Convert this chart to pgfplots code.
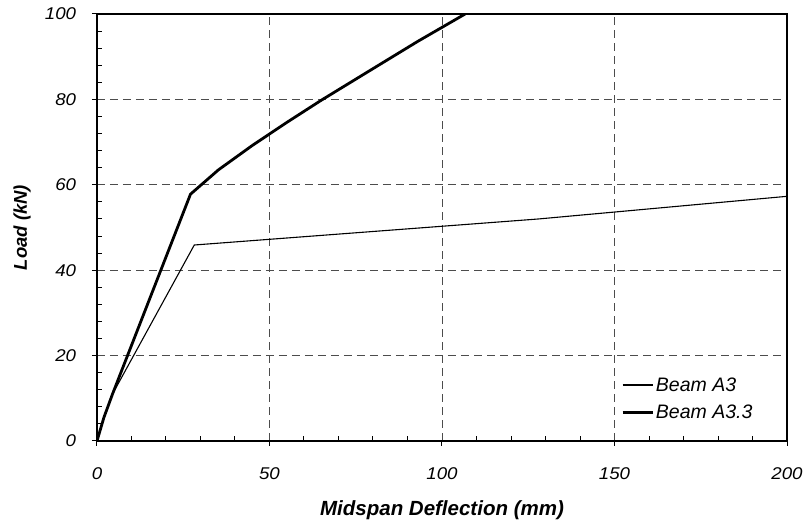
\documentclass[border=0pt]{standalone}
\usepackage{pgfplots}
\pgfplotsset{compat=1.18}
\usepackage{fontspec}
\setmainfont{Liberation Sans}

\begin{document}
\begin{tikzpicture}
% page frame, 1pt per reference pixel
\useasboundingbox (-97pt,-81pt) rectangle (710pt,441pt);
\begin{axis}[
  at={(0pt,0pt)}, anchor=south west,
  scale only axis, width=690pt, height=427pt,
  xmin=0, xmax=200, ymin=0, ymax=100,
  xtick={0,50,100,150,200}, ytick={0,20,40,60,80,100},
  minor x tick num=4, minor y tick num=4,
  xtick pos=bottom, ytick pos=left,
  tick align=outside,
  major tick length=5pt, minor tick length=5pt,
  every minor x tick/.append style={yshift=5pt},
  every minor y tick/.append style={xshift=5pt},
  tick style={black, line width=1pt},
  axis line style={black, line width=1.3pt},
  grid=major,
  major grid style={black!70, line width=0.8pt, dash pattern=on 8pt off 5pt},
  /pgf/number format/assume math mode=true,
  ticklabel style={font=\fontsize{17}{20}\selectfont\itshape},
  xticklabel style={yshift=-18pt, xscale=1.1},
  yticklabel style={xshift=-12pt, xscale=1.1},
  xlabel={Midspan Deflection (mm)},
  ylabel={Load (kN)},
  every axis x label/.style={at={(axis description cs:0.5,-0.163)}, anchor=center},
  every axis y label/.style={at={(axis description cs:-0.1087,0.5)}, rotate=90, anchor=center},
  xlabel style={font=\fontsize{20.5}{24}\selectfont\bfseries\itshape},
  ylabel style={font=\fontsize{18.5}{22}\selectfont\bfseries\itshape},
  legend cell align=left,
  legend style={draw=none, fill=none, at={(rel axis cs:0.755,0.04)}, anchor=south west,
    font=\fontsize{19.5}{22}\selectfont\itshape, row sep=8pt},
  legend image code/.code={\draw[#1] (0pt,0pt) -- (30pt,0pt);},
]
\addplot[black, line width=1.1pt] coordinates {
  (0,0) (2,5.5) (4.5,11) (28.2,45.9) (128,52.0) (200,57.3)
};
\addlegendentry{Beam A3}
\addplot[black, line width=2.8pt] coordinates {
  (0,0) (2,5.5) (4.5,11) (27.1,57.8) (35.2,63.5) (45,69.2) (55,74.6)
  (65,79.8) (80,87.2) (93,93.6) (106.7,100)
};
\addlegendentry{Beam A3.3}
\end{axis}
\end{tikzpicture}
\end{document}
